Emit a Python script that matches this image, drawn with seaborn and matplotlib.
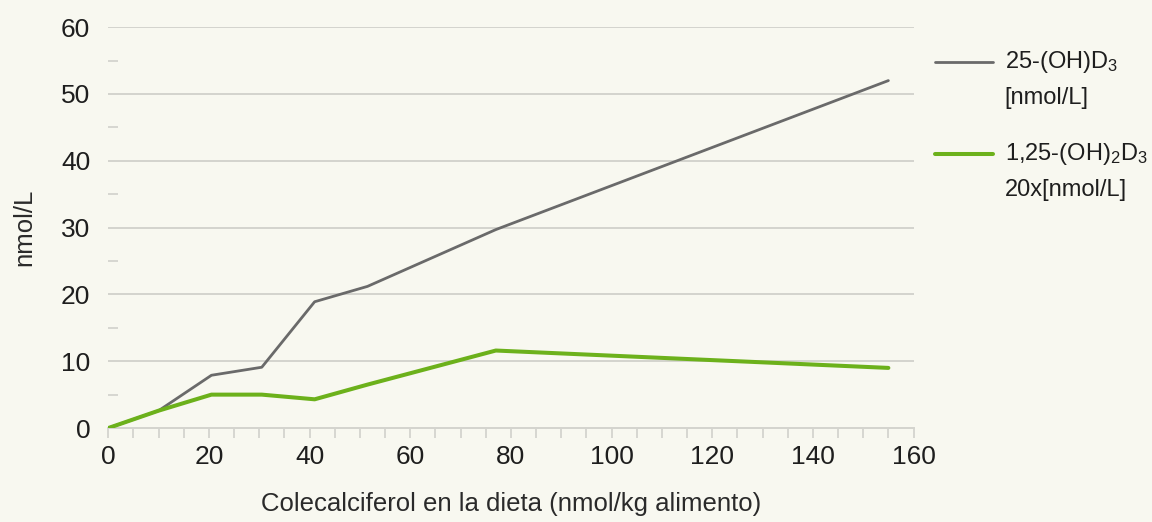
"""
Vitamin D metabolites vs dietary cholecalciferol
"""
import pandas as pd
import matplotlib
matplotlib.use("Agg")
import matplotlib.pyplot as plt
import seaborn as sns
from matplotlib.ticker import MultipleLocator
from matplotlib.lines import Line2D

dose = [0, 10, 20.5, 30.5, 41, 51.5, 77, 155]
ohd3 = [0, 2.6, 7.9, 9.1, 18.9, 21.2, 29.7, 52.0]
oh2d3_x20 = [0, 2.6, 5.0, 5.0, 4.3, 6.5, 11.6, 9.0]

serie_a = "25-(OH)D3"
serie_b = "1,25-(OH)2D3"

bg = "#f8f8f0"
grey = "#6a6a6a"
green = "#6cb11b"
gridc = "#d4d4ce"
txt = "#1e1e1e"

df = pd.DataFrame({
    "dose": dose * 2,
    "value": ohd3 + oh2d3_x20,
    "serie": [serie_a] * len(dose) + [serie_b] * len(dose),
})

sns.set_style("white")
plt.rcParams["font.family"] = ["Liberation Sans", "DejaVu Sans"]
plt.rcParams["mathtext.default"] = "regular"

fig = plt.figure(figsize=(11.52, 5.22), dpi=100, facecolor=bg)
ax = fig.add_axes([0.094, 0.18, 0.699, 0.768])
ax.set_facecolor(bg)

sns.lineplot(data=df, x="dose", y="value", hue="serie",
             palette={serie_a: grey, serie_b: green},
             linewidth=2.0, ax=ax, legend=False)
for line in ax.get_lines():
    if line.get_color() == green:
        line.set_linewidth(2.9)
        line.set_zorder(3)

ax.set_xlim(0, 160)
ax.set_ylim(0, 60)
ax.xaxis.set_major_locator(MultipleLocator(20))
ax.xaxis.set_minor_locator(MultipleLocator(5))
ax.yaxis.set_major_locator(MultipleLocator(10))
ax.yaxis.set_minor_locator(MultipleLocator(5))

ax.grid(axis="y", which="major", color=gridc, linewidth=1.4)
for s in ["top", "right", "left"]:
    ax.spines[s].set_visible(False)
ax.spines["bottom"].set_color(gridc)
ax.spines["bottom"].set_linewidth(1.4)

ax.tick_params(axis="x", which="both", bottom=True, direction="out",
               length=7.5, color=gridc, width=1.3)
ax.tick_params(axis="x", which="major", labelsize=19, pad=5, labelcolor=txt)
ax.tick_params(axis="y", which="major", left=True, length=0, labelsize=19,
               pad=13, labelcolor=txt)
ax.tick_params(axis="y", which="minor", left=True, direction="in", length=7,
               color=gridc, width=1.3)

ax.set_xlabel("Colecalciferol en la dieta (nmol/kg alimento)", fontsize=18.5,
              labelpad=16, color="#2a2a2a")
ax.set_ylabel("nmol/L", fontsize=18.5, labelpad=18, color="#2a2a2a")

# legend drawn by hand so the key lines sit on the first text line
fig.add_artist(Line2D([0.8116, 0.862], [0.881, 0.881], color=grey,
                      linewidth=2.0, transform=fig.transFigure))
fig.add_artist(Line2D([0.8116, 0.862], [0.705, 0.705], color=green,
                      linewidth=2.9, transform=fig.transFigure))
fig.text(0.872, 0.881, "25-(OH)D$_3$", fontsize=17, va="center", color=txt)
fig.text(0.872, 0.812, "[nmol/L]", fontsize=17, va="center", color=txt)
fig.text(0.872, 0.705, "1,25-(OH)$_2$D$_3$", fontsize=17, va="center",
         color=txt)
fig.text(0.872, 0.636, "20x[nmol/L]", fontsize=17, va="center", color=txt)

fig.savefig("out.png", dpi=100, facecolor=bg)
